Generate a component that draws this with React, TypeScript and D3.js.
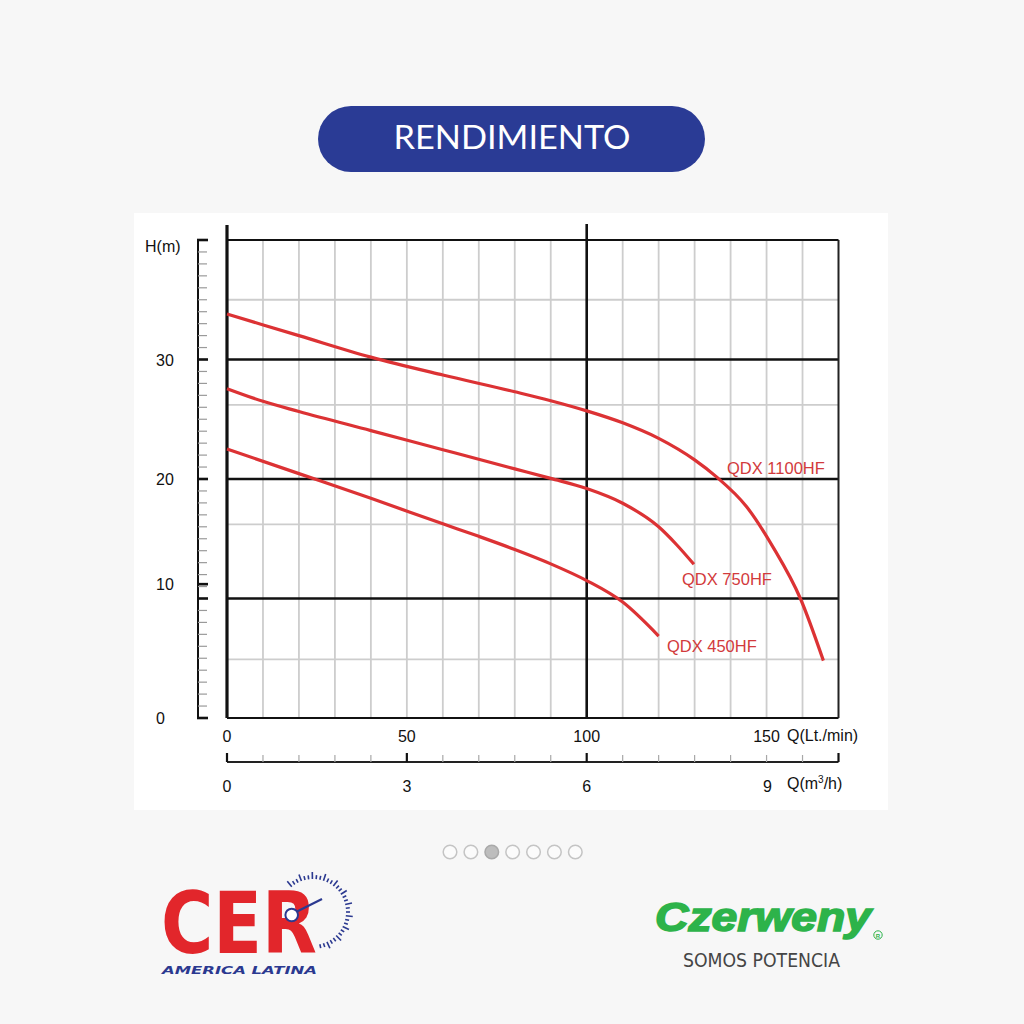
import React from "react";
import * as d3 from "d3";

// ---------- data ----------
const q1100 = [0, 20, 40, 60, 80, 90, 100, 110, 120, 130, 136, 144.4, 151.8, 159.4, 165.8];
const h1100 = [33.8, 32.0, 30.2, 28.7, 27.3, 26.55, 25.7, 24.7, 23.4, 21.6, 20.2, 17.7, 14.3, 10.0, 4.8];
const q750 = [0, 10, 20, 40, 60, 80, 90, 100, 110, 120, 125, 129.8];
const h750 = [27.56, 26.5, 25.65, 24.05, 22.45, 20.85, 20.05, 19.2, 17.97, 16.0, 14.5, 12.86];
const q450 = [0, 20, 40, 60, 70, 80, 90, 100, 110, 120];
const h450 = [22.51, 20.45, 18.38, 16.25, 15.2, 14.1, 12.9, 11.5, 9.7, 6.86];
const seriesNames = ["QDX 1100HF", "QDX 750HF", "QDX 450HF"];
const labelQ = [139, 126.5, 122.3];
const labelH = [20.4, 11.1, 5.5];

const lpmTicks = [0, 50, 100, 150];
const m3hTicks = [0, 3, 6, 9];
const hTickLabels = ["0", "10", "20", "30"];
const hTickLabelValues = [0, 11.2, 20, 30];
const hMajorGrid = [0, 10, 20, 30, 40];
const hMinorGrid = [4.9, 16.2, 26.2, 35];
const qMax = 170;
const hMax = 40;
const dotCount = 7;
const activeDot = 2;

const title = "RENDIMIENTO";

export default function App() {
  const x = d3.scaleLinear().domain([0, qMax]).range([227, 838.5]);
  const y = d3.scaleLinear().domain([0, hMax]).range([718, 240]);
  const xm3 = d3.scaleLinear().domain([0, (qMax * 60) / 1000]).range([227, 838.5]);

  const line = d3
    .line<[number, number]>()
    .x((d) => x(d[0]))
    .y((d) => y(d[1]))
    .curve(d3.curveMonotoneX);

  const series = [
    d3.zip(q1100, h1100) as [number, number][],
    d3.zip(q750, h750) as [number, number][],
    d3.zip(q450, h450) as [number, number][],
  ];

  const vGrid = d3.range(10, qMax, 10).filter((v) => v !== 100);
  const rulerMinor = d3.range(1, hMax, 1).filter((v) => v % 10 !== 0);
  const rulerMajor = [...hMajorGrid, hTickLabelValues[1]];
  const m3Minor = d3.range(0, qMax + 1, 10);

  const red = "#dc3234";
  const font = "'Liberation Sans', Arial, sans-serif";

  // gauge ticks
  const gCx = 313, gCy = 912;
  const gaugeAngles = d3.range(-130, 80, 6.5);
  const dotX = d3.scaleLinear().domain([0, dotCount - 1]).range([450, 575.3]);

  return (
    <svg
      width={1024}
      height={1024}
      style={{ position: "absolute", left: 0, top: 0, display: "block" }}
    >
      <rect x={0} y={0} width={1024} height={1024} fill="#f7f7f7" />
      {/* title pill */}
      <rect x={318} y={106} width={387} height={66} rx={33} fill="#2a3b95" />
      <text
        x={512}
        y={149}
        textAnchor="middle"
        fontFamily="Lato, 'Open Sans', sans-serif"
        fontSize={33}
        fill="#ffffff"
        textLength={237}
        lengthAdjust="spacingAndGlyphs"
      >
        {title}
      </text>

      {/* chart panel */}
      <rect x={134} y={213} width={754} height={597} fill="#ffffff" />

      {/* gray grid */}
      {vGrid.map((v) => (
        <line key={"vg" + v} x1={x(v)} x2={x(v)} y1={y(hMax)} y2={y(0)} stroke="#cdcdcd" strokeWidth={1.8} />
      ))}
      {hMinorGrid.map((v) => (
        <line key={"hg" + v} x1={x(0)} x2={x(qMax)} y1={y(v)} y2={y(v)} stroke="#cdcdcd" strokeWidth={1.8} />
      ))}
      {/* black grid */}
      {hMajorGrid.map((v) => (
        <line
          key={"hb" + v}
          x1={x(0)}
          x2={x(qMax)}
          y1={y(v)}
          y2={y(v)}
          stroke="#111"
          strokeWidth={v === 0 || v === hMax ? 2 : 2.6}
        />
      ))}
      <line x1={x(100)} x2={x(100)} y1={224} y2={y(0)} stroke="#111" strokeWidth={2.6} />
      <line x1={x(qMax)} x2={x(qMax)} y1={y(hMax)} y2={y(0)} stroke="#222" strokeWidth={2} />
      <line x1={x(0)} x2={x(0)} y1={225} y2={y(0)} stroke="#111" strokeWidth={3.2} />

      {/* left ruler */}
      <line x1={198} x2={198} y1={y(hMax)} y2={y(0)} stroke="#111" strokeWidth={2} />
      {rulerMinor.map((v) => (
        <line key={"rm" + v} x1={198} x2={207} y1={y(v)} y2={y(v)} stroke="#9a9a9a" strokeWidth={1.2} />
      ))}
      {rulerMajor.map((v) => (
        <line key={"rM" + v} x1={197} x2={208} y1={y(v)} y2={y(v)} stroke="#111" strokeWidth={2.6} />
      ))}
      <text x={145} y={252} fontFamily={font} fontSize={16} fill="#111">
        H(m)
      </text>
      {hTickLabels.map((t, i) => (
        <text
          key={"hl" + t}
          x={156}
          y={y(hTickLabelValues[i]) + 6}
          fontFamily={font}
          fontSize={16}
          fill="#111"
        >
          {t}
        </text>
      ))}

      {/* curves */}
      {series.map((s, i) => (
        <path key={"s" + i} d={line(s) || ""} fill="none" stroke={red} strokeWidth={3.2} strokeLinecap="butt" />
      ))}
      {seriesNames.map((n, i) => (
        <text key={n} x={x(labelQ[i])} y={y(labelH[i])} fontFamily={font} fontSize={16.5} fill="#d23a3c">
          {n}
        </text>
      ))}

      {/* upper x axis labels */}
      {lpmTicks.map((t) => (
        <text key={"lt" + t} x={x(t)} y={742} textAnchor="middle" fontFamily={font} fontSize={16} fill="#111">
          {t}
        </text>
      ))}
      <text x={787} y={741} fontFamily={font} fontSize={16} fill="#111">
        Q(Lt./min)
      </text>

      {/* lower m3/h axis */}
      <line x1={x(0)} x2={x(qMax)} y1={762} y2={762} stroke="#222" strokeWidth={2} />
      {m3Minor.map((v) => {
        const isMajor = v === 50 || v === 100 || v === 0 || v === qMax;
        return (
          <line
            key={"mm" + v}
            x1={x(v)}
            x2={x(v)}
            y1={isMajor ? 753 : 755}
            y2={762}
            stroke={isMajor ? "#111" : "#a8a8a8"}
            strokeWidth={isMajor ? 2.2 : 1.2}
          />
        );
      })}
      {m3hTicks.map((t) => (
        <text key={"mt" + t} x={xm3(t) + (t === 9 ? 1 : 0)} y={792} textAnchor="middle" fontFamily={font} fontSize={16} fill="#111">
          {t}
        </text>
      ))}
      <text x={787} y={789} fontFamily={font} fontSize={16} fill="#111">
        Q(m
        <tspan dy={-6} fontSize={10}>
          3
        </tspan>
        <tspan dy={6}>/h)</tspan>
      </text>

      {/* carousel dots */}
      {d3.range(dotCount).map((i) => (
        <circle
          key={"d" + i}
          cx={dotX(i)}
          cy={852}
          r={6.8}
          fill={i === activeDot ? "#bdbdbd" : "#fbfbfb"}
          stroke={i === activeDot ? "#a9a9a9" : "#c4c4c4"}
          strokeWidth={1.5}
        />
      ))}

      {/* CER logo */}
      <text
        x={161}
        y={953}
        fontFamily="'DejaVu Sans', sans-serif"
        fontWeight={700}
        fontSize={86}
        fill="#e2262b"
        textLength={156}
        lengthAdjust="spacingAndGlyphs"
      >
        CER
      </text>
      <text
        x={162}
        y={974}
        fontFamily="'DejaVu Sans', sans-serif"
        fontWeight={700}
        fontStyle="italic"
        fontSize={11}
        fill="#2b3990"
        textLength={155}
        lengthAdjust="spacingAndGlyphs"
      >
        AMERICA LATINA
      </text>
      {gaugeAngles.map((a, i) => {
        const r = (a * Math.PI) / 180;
        const r0 = 33;
        const r1 = i % 3 === 0 ? 40 : 37;
        return (
          <line
            key={"ga" + i}
            x1={gCx + r0 * Math.cos(r)}
            y1={gCy + r0 * Math.sin(r)}
            x2={gCx + r1 * Math.cos(r)}
            y2={gCy + r1 * Math.sin(r)}
            stroke="#2b3990"
            strokeWidth={1.6}
          />
        );
      })}
      <line x1={296} y1={912} x2={322} y2={899} stroke="#2b3990" strokeWidth={2.2} />
      <circle cx={291.7} cy={915} r={6.3} fill="#ffffff" stroke="#2b3990" strokeWidth={2} />

      {/* Czerweny logo */}
      <text
        x={655}
        y={931}
        fontFamily="'Liberation Sans', sans-serif"
        fontWeight={700}
        fontStyle="italic"
        fontSize={40}
        fill="#2db34a"
        stroke="#2db34a"
        strokeWidth={1.6}
        textLength={216}
        lengthAdjust="spacingAndGlyphs"
      >
        Czerweny
      </text>
      <circle cx={878} cy={935} r={4.2} fill="none" stroke="#2db34a" strokeWidth={1} />
      <text x={878} y={937.5} textAnchor="middle" fontFamily={font} fontWeight={700} fontSize={6} fill="#2db34a">
        R
      </text>
      <text
        x={683}
        y={967}
        fontFamily="'DejaVu Sans', sans-serif"
        fontSize={19}
        fill="#454545"
        textLength={157}
        lengthAdjust="spacingAndGlyphs"
      >
        SOMOS POTENCIA
      </text>
    </svg>
  );
}
